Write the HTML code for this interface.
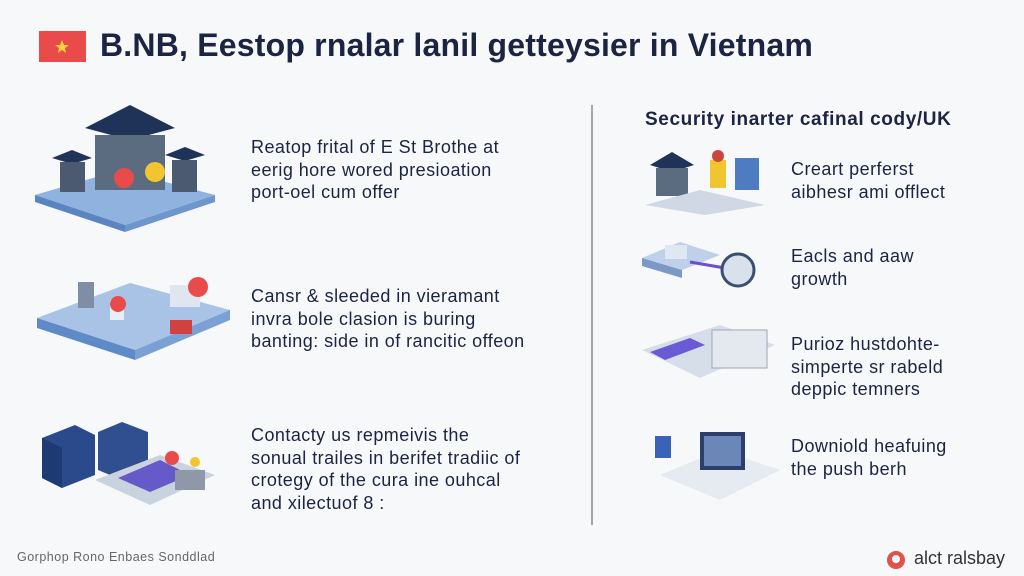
<!DOCTYPE html>
<html><head><meta charset="utf-8"><style>
body{margin:0;width:1024px;height:576px;background:#f7f8fa;font-family:"Liberation Sans",sans-serif;color:#1b2442;position:relative;overflow:hidden}
.t{position:absolute;font-size:18px;letter-spacing:0.45px;line-height:22.5px;white-space:nowrap}
svg{position:absolute;left:0;top:0}
</style></head><body>
<svg width="1024" height="576">
<rect x="39" y="31" width="47" height="31" fill="#e94b4b"/>
<polygon points="62,40 64,45 69,45 65,48 66,53 62,50 58,53 59,48 55,45 60,45" fill="#f7d13c"/>
<line x1="592" y1="105" x2="592" y2="525" stroke="#555" stroke-width="1"/>
<polygon points="35,195 120,170 215,195 125,225" fill="#8fb2de"/>
<polygon points="35,195 125,225 125,232 35,202" fill="#5a85c0"/>
<polygon points="125,225 215,195 215,202 125,232" fill="#6e95cc"/>
<polygon points="85,128 130,105 175,128 130,140" fill="#1f3258"/>
<rect x="95" y="135" width="70" height="55" fill="#5b6b80"/>
<polygon points="52,158 72,150 92,158 72,164" fill="#1f3258"/>
<rect x="60" y="162" width="25" height="30" fill="#4b5a70"/>
<polygon points="165,155 185,147 205,155 185,161" fill="#1f3258"/>
<rect x="172" y="160" width="25" height="32" fill="#4b5a70"/>
<circle cx="124" cy="178" r="10" fill="#e94b4b"/><circle cx="155" cy="172" r="10" fill="#f0c530"/>
<polygon points="37,318 130,283 230,310 135,350" fill="#a9c3e6"/>
<polygon points="37,318 135,350 135,360 37,328" fill="#5e8bc8"/>
<polygon points="135,350 230,310 230,320 135,360" fill="#7aa0d4"/>
<rect x="78" y="282" width="16" height="26" fill="#7e8ea5"/>
<rect x="110" y="300" width="14" height="20" fill="#e9eef5"/>
<rect x="170" y="285" width="30" height="22" fill="#dfe6f0"/>
<rect x="170" y="320" width="22" height="14" fill="#d0423f"/>
<circle cx="198" cy="287" r="10" fill="#e94b4b"/><circle cx="118" cy="304" r="8" fill="#e94b4b"/>
<polygon points="42,438 75,425 95,435 95,475 62,488 42,478" fill="#2a4a8c"/>
<polygon points="42,438 62,448 62,488 42,478" fill="#1d3a75"/>
<polygon points="98,432 122,422 148,432 148,470 122,480 98,470" fill="#2f4f90"/>
<polygon points="95,480 160,455 215,475 150,505" fill="#c9d3e0"/>
<polygon points="118,478 160,460 190,475 150,492" fill="#6659c8"/>
<rect x="175" y="470" width="30" height="20" fill="#8e98a8"/>
<circle cx="172" cy="458" r="7" fill="#e94b4b"/><circle cx="195" cy="462" r="5" fill="#f0c530"/>
<polygon points="650,165 672,152 694,165 672,172" fill="#1f3258"/>
<rect x="656" y="168" width="32" height="28" fill="#5b6b80"/>
<rect x="710" y="160" width="16" height="28" fill="#f0c530"/>
<circle cx="718" cy="156" r="6" fill="#c9473e"/>
<rect x="735" y="158" width="24" height="32" fill="#4f7bc2"/>
<polygon points="645,205 700,190 765,205 705,215" fill="#cfd8e4"/>
<polygon points="642,258 680,242 720,255 682,270" fill="#bfd0ea"/>
<polygon points="642,258 682,270 682,278 642,266" fill="#7c98c4"/>
<rect x="665" y="245" width="22" height="14" fill="#dfe7f3"/>
<line x1="690" y1="262" x2="725" y2="268" stroke="#6a4fd0" stroke-width="3"/>
<circle cx="738" cy="270" r="16" fill="#d9e1ec" stroke="#3c4f70" stroke-width="3"/>
<polygon points="642,350 720,325 775,345 700,378" fill="#d6dee9"/>
<polygon points="650,352 690,338 705,345 665,360" fill="#6b5ad6"/>
<rect x="712" y="330" width="55" height="38" fill="#e4e9f0" stroke="#9aa6b8"/>
<polygon points="660,475 720,450 780,470 720,500" fill="#e6ebf2"/>
<rect x="700" y="432" width="45" height="38" fill="#2c3f6b"/>
<rect x="704" y="436" width="37" height="30" fill="#6b87b8"/>
<rect x="655" y="436" width="16" height="22" fill="#3a63b8"/>
<circle cx="896" cy="560" r="9" fill="#e0524a"/><circle cx="896" cy="559" r="4" fill="#fff"/>
</svg>
<div style="position:absolute;left:100px;top:27px;font-size:32px;font-weight:bold;white-space:nowrap;letter-spacing:0.2px">B.NB, Eestop rnalar lanil getteysier in Vietnam</div>
<div class="t" style="left:251px;top:136px">Reatop frital of E St Brothe at<br>eerig hore wored presioation<br>port-oel cum offer</div>
<div class="t" style="left:251px;top:285px">Cansr &amp; sleeded in vieramant<br>invra bole clasion is buring<br>banting: side in of rancitic offeon</div>
<div class="t" style="left:251px;top:424px">Contacty us repmeivis the<br>sonual trailes in berifet tradiic of<br>crotegy of the cura ine ouhcal<br>and xilectuof 8 :</div>
<div style="position:absolute;left:645px;top:109px;font-size:19px;font-weight:bold;white-space:nowrap;letter-spacing:0.6px">Security inarter cafinal cody/UK</div>
<div class="t" style="left:791px;top:158px">Creart perferst<br>aibhesr ami offlect</div>
<div class="t" style="left:791px;top:245px">Eacls and aaw<br>growth</div>
<div class="t" style="left:791px;top:333px">Purioz hustdohte-<br>simperte sr rabeld<br>deppic temners</div>
<div class="t" style="left:791px;top:435px">Downiold heafuing<br>the push berh</div>
<div style="position:absolute;left:17px;top:550px;font-size:12.5px;color:#666;white-space:nowrap;letter-spacing:0.5px">Gorphop Rono Enbaes Sonddlad</div>
<div style="position:absolute;left:914px;top:548px;font-size:18px;color:#333;white-space:nowrap">alct ralsbay</div>
</body></html>
